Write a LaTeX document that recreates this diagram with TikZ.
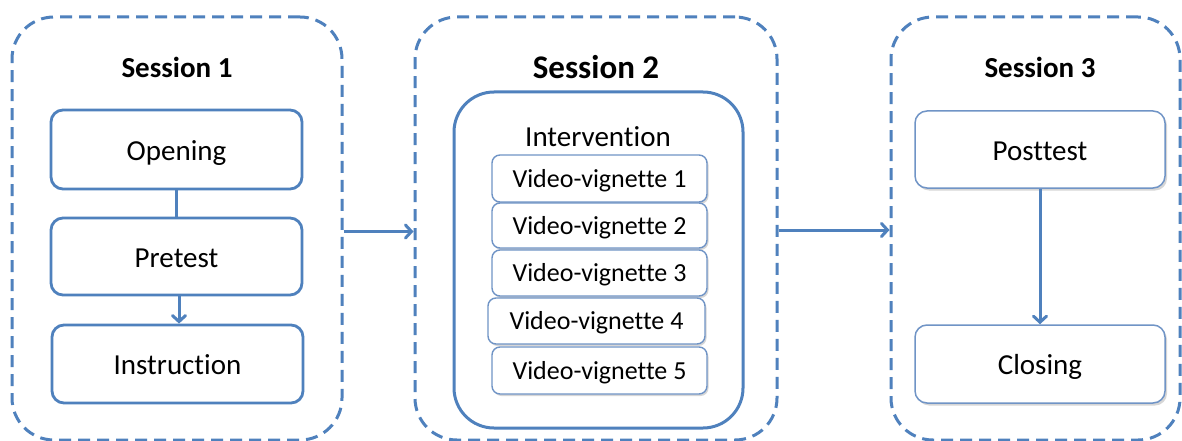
\documentclass[tikz,border=0pt]{standalone}
\usepackage{fontspec}
\setmainfont{Carlito}[Ligatures={NoCommon}, RawFeature={-liga;-calt;-dlig}]
\usetikzlibrary{arrows.meta,shadows}
\definecolor{frame}{RGB}{79,129,189}
\definecolor{soft}{RGB}{112,148,198}

\begin{document}
\begin{tikzpicture}[x=1pt,y=-1pt,
  session/.style={draw=frame, line width=3pt, dash pattern=on 12pt off 7pt,
    rounded corners=42pt, inner sep=0pt},
  title/.style={font=\bfseries\fontsize{29}{34}\selectfont, inner sep=0pt},
  bigtext/.style={font=\fontsize{29}{34}\selectfont, text height=27pt, text depth=6pt},
  smalltext/.style={font=\fontsize{26}{30}\selectfont, text height=22pt, text depth=5pt},
  stagebox/.style={draw=frame, line width=2.8pt, rounded corners=12pt,
    minimum width=251pt, minimum height=78pt, inner sep=0pt, bigtext},
  lightbox/.style={draw=soft, line width=1.5pt, rounded corners=12pt, fill=white,
    minimum width=250pt, minimum height=77pt, inner sep=0pt, bigtext,
    drop shadow={shadow xshift=2pt, shadow yshift=-2.5pt, opacity=0.35, fill=black!45}},
  vidbox/.style={draw=soft, line width=1.4pt, rounded corners=8pt, fill=white,
    minimum width=215pt, minimum height=46pt, inner sep=0pt, smalltext,
    drop shadow={shadow xshift=1.5pt, shadow yshift=-2pt, opacity=0.35, fill=black!45}},
  conn/.style={draw=frame, line width=3pt},
  arr/.style={conn, -{Straight Barb[length=6pt,width=13pt,line width=3pt,line cap=round]}}
]
\useasboundingbox (0,0) rectangle (1182,441);
\fill[white] (0,0) rectangle (1182,441);

% session frames
\node[session, minimum width=330pt, minimum height=423pt] (s1) at (177,228.5) {};
\node[session, minimum width=362pt, minimum height=423pt] (s2) at (596,228.5) {};
\node[session, minimum width=289pt, minimum height=423pt] (s3) at (1035.5,228.5) {};

\node[title] (t1) at (177,67) {Session 1};
\node[title, font=\bfseries\fontsize{33}{38}\selectfont] (t2) at (596,67) {Session 2};
\node[title] (t3) at (1040,67) {Session 3};

% session 1
\node[stagebox, minimum height=79pt] (open) at (176.5,149.5) {Opening};
\node[stagebox, minimum height=77pt] (pre) at (176.5,256.5) {Pretest};
\node[stagebox] (instr) at (177.5,364) {Instruction};
\draw[conn] (open) -- (pre);
\draw[arr] ([xshift=2.5pt]pre.south) -- ([xshift=1.5pt]instr.north);

% session 2
\node[draw=frame, line width=3pt, rounded corners=40pt, minimum width=289pt,
  minimum height=336pt, inner sep=0pt] (interv) at (598.5,260) {};
\node[bigtext, text height=23.5pt, inner sep=0pt] (ilabel) at (598,138) {Intervention};
\node[vidbox, minimum height=47pt] (v1) at (599.5,178.5) {Video-vignette 1};
\node[vidbox, minimum height=45pt] (v2) at (599.5,225.5) {Video-vignette 2};
\node[vidbox] (v3) at (599.5,273) {Video-vignette 3};
\node[vidbox, minimum width=217pt] (v4) at (596.5,321) {Video-vignette 4};
\node[vidbox, minimum height=47pt] (v5) at (599.5,370.5) {Video-vignette 5};

% session 3
\node[lightbox] (post) at (1040,149.5) {Posttest};
\node[lightbox, minimum height=78pt] (close) at (1040,364) {Closing};
\draw[arr] (post) -- (close);

% flow between sessions
\draw[arr] ([yshift=-3pt]s1.east) -- ([yshift=-3pt]s2.west);
\draw[arr] ([yshift=-1.5pt]s2.east) -- ([yshift=-1.5pt]s3.west);
\end{tikzpicture}
\end{document}
